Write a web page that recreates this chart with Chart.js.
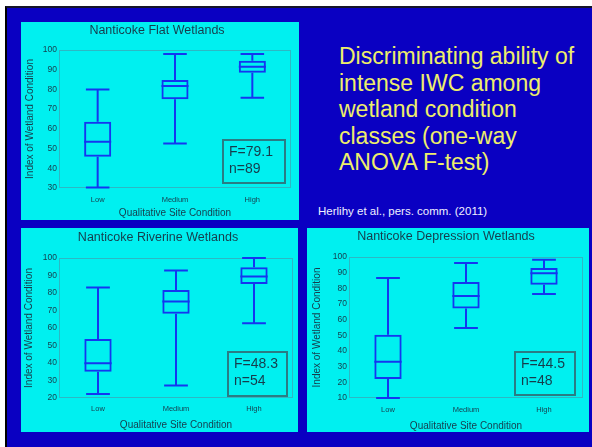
<!DOCTYPE html>
<html>
<head>
<meta charset="utf-8">
<script src="https://cdn.jsdelivr.net/npm/chart.js@4"></script>
<style>
  body { margin: 0; width: 592px; height: 447px; overflow: hidden; position: relative; background: #fff; font-family: Arial, "Liberation Sans", sans-serif; }
  #slide { position: absolute; left: 5px; top: 6px; width: 587px; height: 441px; box-sizing: border-box; background: #0a00c2; border-left: 2px solid #000; border-top: 2px solid #15152a; }
  canvas { position: absolute; background: #00f0f0; }
  #c1 { left: 21px; top: 22px; }
  #c2 { left: 21px; top: 228px; }
  #c3 { left: 307px; top: 228px; }
  #heading { position: absolute; left: 339px; top: 43px; font-size: 23px; line-height: 26.5px; color: #eeee6a; white-space: nowrap; }
  #credit { position: absolute; left: 318px; top: 204px; font-size: 11.5px; line-height: 14px; color: #f0f0ff; white-space: nowrap; }
</style>
</head>
<body>
<div id="slide"></div>
<canvas id="c1" width="278" height="198"></canvas>
<canvas id="c2" width="277" height="204"></canvas>
<canvas id="c3" width="282" height="204"></canvas>
<div id="heading">Discriminating ability of<br>intense IWC among<br>wetland condition<br>classes (one-way<br>ANOVA F-test)</div>
<div id="credit">Herlihy et al., pers. comm. (2011)</div>
<script>
var categories = ['Low', 'Medium', 'High'];

// Nanticoke Flat Wetlands
var flatMin    = [30.3, 52.6, 75.8];
var flatQ1     = [45.8, 75.0, 88.5];
var flatMedian = [53.5, 81.7, 91.5];
var flatQ3     = [63.6, 84.8, 94.6];
var flatMax    = [80.0, 98.0, 98.0];
var flatRange  = [30, 100];

// Nanticoke Riverine Wetlands
var riverMin    = [22.3, 27.2, 62.7];
var riverQ1     = [35.0, 68.2, 85.1];
var riverMedian = [39.8, 75.2, 89.5];
var riverQ3     = [53.7, 81.7, 94.7];
var riverMax    = [83.2, 92.8, 100.0];
var riverRange  = [20, 100];

// Nanticoke Depression Wetlands
var deprMin    = [10.0, 54.7, 76.4];
var deprQ1     = [22.1, 67.2, 82.3];
var deprMedian = [33.2, 75.1, 89.6];
var deprQ3     = [50.4, 84.0, 93.0];
var deprMax    = [86.6, 96.2, 98.3];
var deprRange  = [10, 100];

var fValues = [79.1, 48.3, 44.5];
var nValues = [89, 54, 48];

var lineBlue = '#1436f0';
var textColor = '#163c4c';

Chart.defaults.font.family = 'Arial, "Liberation Sans", sans-serif';
Chart.defaults.color = textColor;

function makeChart(id, title, mins, q1s, meds, q3s, maxs, range, fVal, nVal, lay) {
  var boxes = [];
  for (var i = 0; i < q1s.length; i++) boxes.push([q1s[i], q3s[i]]);

  var whiskers = {
    id: 'whiskers',
    beforeDatasetsDraw: function(chart) {
      var a = chart.chartArea, ctx = chart.ctx;
      ctx.save();
      ctx.strokeStyle = '#2cb8c4';
      ctx.lineWidth = 1;
      ctx.strokeRect(Math.round(a.left) + 0.5, Math.round(a.top) + 0.5, Math.round(a.width) - 1, Math.round(a.height) - 1);
      ctx.restore();
    },
    afterDatasetsDraw: function(chart) {
      var ctx = chart.ctx;
      var xs = chart.scales.x, ys = chart.scales.y;
      var bars = chart.getDatasetMeta(0).data;
      ctx.save();
      ctx.strokeStyle = lineBlue;
      ctx.lineWidth = 2;
      for (var i = 0; i < mins.length; i++) {
        var x = xs.getPixelForValue(i);
        var half = bars[i].width / 2;
        var cap = half * 0.87;
        var yMed = ys.getPixelForValue(meds[i]);
        var yQ1 = ys.getPixelForValue(q1s[i]);
        var yQ3 = ys.getPixelForValue(q3s[i]);
        var yLo = ys.getPixelForValue(mins[i]);
        var yHi = ys.getPixelForValue(maxs[i]);
        ctx.beginPath();
        ctx.moveTo(x - half, yMed); ctx.lineTo(x + half, yMed);
        ctx.moveTo(x, yQ3); ctx.lineTo(x, yHi);
        ctx.moveTo(x - cap, yHi); ctx.lineTo(x + cap, yHi);
        ctx.moveTo(x, yQ1); ctx.lineTo(x, yLo);
        ctx.moveTo(x - cap, yLo); ctx.lineTo(x + cap, yLo);
        ctx.stroke();
      }
      ctx.restore();
    },
    afterDraw: function(chart) {
      var a = chart.chartArea, ctx = chart.ctx;
      var bx = Math.round(a.right - lay.statRight - lay.statW);
      var by = Math.round(a.bottom - lay.statBottom - lay.statH);
      ctx.save();
      ctx.strokeStyle = '#2a7c84';
      ctx.lineWidth = 2;
      ctx.strokeRect(bx, by, lay.statW, lay.statH);
      ctx.fillStyle = textColor;
      ctx.font = '14px Arial, "Liberation Sans", sans-serif';
      ctx.textBaseline = 'middle';
      ctx.fillText('F=' + fVal, bx + 6, by + 12);
      ctx.fillText('n=' + nVal, bx + 6, by + 29);
      ctx.restore();
    }
  };

  return new Chart(document.getElementById(id), {
    type: 'bar',
    data: {
      labels: categories,
      datasets: [{
        data: boxes,
        backgroundColor: 'rgba(0,0,0,0)',
        borderColor: lineBlue,
        borderWidth: 2,
        borderSkipped: false,
        barPercentage: 0.35,
        categoryPercentage: 1
      }]
    },
    options: {
      responsive: false,
      animation: false,
      devicePixelRatio: 1,
      layout: { padding: { left: 2, right: lay.right, top: 1, bottom: 0 } },
      plugins: {
        legend: { display: false },
        tooltip: { enabled: false },
        title: {
          display: true,
          text: title,
          color: textColor,
          font: { size: 12.5, weight: 'normal' },
          padding: { top: lay.titleTop, bottom: lay.titleBottom }
        }
      },
      scales: {
        x: {
          grid: { display: false, drawTicks: false },
          border: { display: false },
          ticks: { font: { size: 7.5 }, padding: lay.xTickPad, color: textColor },
          title: { display: true, text: 'Qualitative Site Condition', font: { size: 10 }, color: textColor, padding: { top: 0, bottom: lay.xTitlePad } },
          afterFit: function(s) { s.height = lay.xHeight; }
        },
        y: {
          min: range[0],
          max: range[1],
          grid: { display: false, drawTicks: false },
          border: { display: false },
          ticks: { stepSize: 10, font: { size: 8.5 }, padding: 2, color: textColor },
          title: { display: true, text: 'Index of Wetland Condition', font: { size: 10 }, color: textColor, padding: { top: lay.yTitlePad, bottom: 0 } },
          afterFit: function(s) { s.width = lay.yWidth; }
        }
      }
    },
    plugins: [whiskers]
  });
}

makeChart('c1', 'Nanticoke Flat Wetlands', flatMin, flatQ1, flatMedian, flatQ3, flatMax, flatRange, fValues[0], nValues[0],
  { right: 8, titleTop: 0.5, titleBottom: 11.5, yWidth: 36, yTitlePad: 1, xHeight: 32, xTitlePad: 1, xTickPad: 7,
    statRight: 6, statBottom: 5, statW: 62, statH: 43 });

makeChart('c2', 'Nanticoke Riverine Wetlands', riverMin, riverQ1, riverMedian, riverQ3, riverMax, riverRange, fValues[1], nValues[1],
  { right: 5, titleTop: 1.5, titleBottom: 12.5, yWidth: 36, yTitlePad: 0.5, xHeight: 34, xTitlePad: 1, xTickPad: 6.5,
    statRight: 6, statBottom: 2, statW: 59, statH: 44 });

makeChart('c3', 'Nanticoke Depression Wetlands', deprMin, deprQ1, deprMedian, deprQ3, deprMax, deprRange, fValues[2], nValues[2],
  { right: 6, titleTop: 0.5, titleBottom: 12.5, yWidth: 40, yTitlePad: 2, xHeight: 34, xTitlePad: 0, xTickPad: 7,
    statRight: 8, statBottom: 3, statW: 60, statH: 43 });
</script>
</body>
</html>
